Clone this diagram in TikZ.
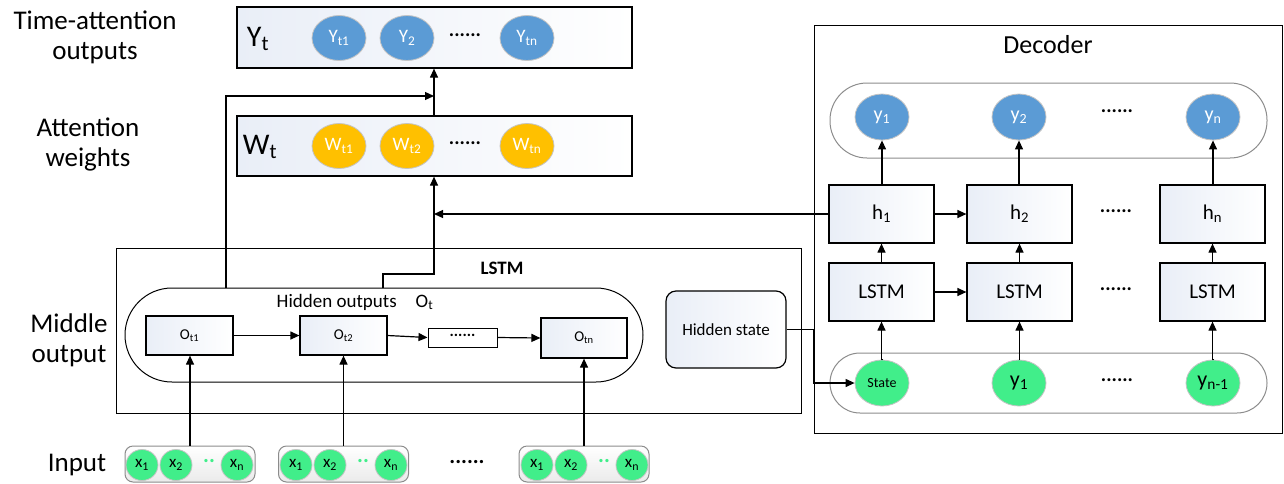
\documentclass[tikz,border=0pt]{standalone}
\usepackage{fontspec}
\setmainfont{Carlito}
\usetikzlibrary{arrows.meta,shapes.geometric}
\definecolor{tint}{HTML}{E9EEF7}
\definecolor{ballblue}{HTML}{5B9BD5}
\definecolor{ballgold}{HTML}{FFC000}
\definecolor{ballgreen}{HTML}{41EE8A}
\definecolor{rim}{HTML}{C4C4C4}
\definecolor{pillgray}{HTML}{8C8C8C}
\newcommand\fz[1]{\fontsize{#1}{#1}\selectfont}

\begin{document}
\begin{tikzpicture}[x=1pt,y=-1pt,line width=1.2pt,
  arr/.style={-{Triangle[length=9pt,width=8pt]}},
  cellbox/.style={draw,left color=tint,middle color=white,right color=white,inner sep=0pt},
  rowbox/.style={cellbox,minimum width=395pt,minimum height=60pt},
  ball/.style={ellipse,draw=rim,line width=0.8pt,inner sep=0pt,minimum width=54pt,minimum height=45pt},
  bluball/.style={ball,fill=ballblue,text=white},
  goldball/.style={ball,fill=ballgold,text=white},
  greenball/.style={ball,fill=ballgreen},
  xball/.style={ball,fill=ballgreen,minimum width=32pt,minimum height=31pt,font=\fz{17}},
  obox/.style={cellbox,minimum width=87pt,minimum height=39pt,font=\fz{15}},
  decbox/.style={cellbox,minimum width=105pt,minimum height=58pt,font=\fz{21}},
  dots/.style={font=\fz{20}\bfseries,inner sep=0pt},
  sidelabel/.style={align=center,font=\fz{27},inner sep=0pt},
  grp/.style={draw=pillgray,line width=1pt,rounded corners=8pt,top color=white,bottom color=black!8,minimum width=130pt,minimum height=36pt,inner sep=0pt},
  pill/.style={draw=pillgray,line width=1pt,fill=white,inner sep=0pt}]

\useasboundingbox (0,0) rectangle (1284,483);

% ---- side labels
\node[sidelabel] (lblA) at (95,37) {Time-attention\\[3pt]outputs};
\node[sidelabel] (lblB) at (88,144) {Attention\\[3pt]weights};
\node[sidelabel] (lblC) at (69,340) {Middle\\[3pt]output};
\node[sidelabel] (lblD) at (77,465) {Input};

% ---- attention rows
\node[rowbox,minimum height=61pt] (Ybox) at (434.5,37.5) {};
\node[inner sep=0pt,font=\fz{30}] (Ylbl) at (258,39) {Y\textsubscript{t}};
\node[bluball,font=\fz{19}] (Y1) at (339,38) {Y\textsubscript{t1}};
\node[bluball,font=\fz{19}] (Y2) at (407,38) {Y\textsubscript{2}};
\node[dots] (Yd) at (465,35) {......};
\node[bluball,font=\fz{19}] (Yn) at (527,38) {Y\textsubscript{tn}};

\node[rowbox] (Wbox) at (434.5,146) {};
\node[inner sep=0pt,font=\fz{30}] (Wlbl) at (260,147) {W\textsubscript{t}};
\node[goldball,font=\fz{19}] (W1) at (339,146) {W\textsubscript{t1}};
\node[goldball,font=\fz{19}] (W2) at (407,146) {W\textsubscript{t2}};
\node[dots] (Wd) at (465,143) {......};
\node[goldball,font=\fz{19}] (Wn) at (527,146) {W\textsubscript{tn}};

% ---- encoder LSTM
\draw[line width=1pt] (116,248) rectangle (801,413);
\node[font=\fz{19}\bfseries,inner sep=0pt] (lstmlbl) at (502,268) {LSTM};
\node[draw,line width=1pt,rounded corners=47pt,minimum width=518pt,minimum height=94pt,inner sep=0pt] (hidpill) at (384,335) {};
\node[font=\fz{19},inner sep=0pt] (hidlbl) at (355,302) {Hidden outputs\quad O\textsubscript{t}};
\node[obox] (o1) at (189.5,335.5) {O\textsubscript{t1}};
\node[obox] (o2) at (343.5,335.5) {O\textsubscript{t2}};
\node[draw,line width=1pt,fill=white,minimum width=69pt,minimum height=19pt,inner sep=0pt] (od) at (462.5,337.5) {};
\node[dots,font=\fz{16}\bfseries] (odt) at (462.5,335) {......};
\node[obox,minimum width=86pt,minimum height=40pt] (on) at (584,338) {O\textsubscript{tn}};
\node[cellbox,rounded corners=10pt,minimum width=120pt,minimum height=77pt,font=\fz{17}] (hstate) at (726,329.5) {Hidden state};

\draw[arr] (o1.east) -- (o2.west);
\draw[arr] (o2.east) -- (od.west);
\draw[arr] (od.east) -- (on.west);

% ---- inputs
\node[grp] (g1) at (190,464) {};
\node[grp] (g2) at (343.5,464) {};
\node[grp] (g3) at (584,464) {};
\foreach \g/\x in {g1/125,g2/279,g3/520}{
  \node[xball] (\g a) at (\x+17,465) {x\textsubscript{1}};
  \node[xball] (\g b) at (\x+51,465) {x\textsubscript{2}};
  \node[dots,text=ballgreen,font=\fz{22}\bfseries] (\g d) at (\x+84,461) {..};
  \node[xball] (\g n) at (\x+112,465) {x\textsubscript{n}};
}
\node[dots,font=\fz{22}\bfseries] (gd) at (467,462) {......};

\draw[arr] (g1.north) -- (g1.north |- o1.south);
\draw[arr] (g2.north) -- (g2.north |- o2.south);
\draw[arr] (g3.north) -- (g3.north |- on.south);

% ---- attention wiring
\coordinate (tapA) at (226,288);
\coordinate (tapB) at (383,288);
\coordinate (jA) at (434,96);
\coordinate (jB) at (434,274);
\draw[arr] (tapA) |- (jA);
\draw[arr] (Wbox.north -| jA) -- (Ybox.south -| jA);
\draw[arr] (tapB) |- (jB) -- (Wbox.south -| jB);

% ---- decoder
\draw[line width=1pt] (814,25) rectangle (1282,433);
\node[font=\fz{26},inner sep=0pt] (declbl) at (1048,45) {Decoder};
\node[pill,rounded corners=37pt,minimum width=437pt,minimum height=75pt] (toppill) at (1048.5,120.5) {};
\node[pill,rounded corners=30pt,minimum width=437pt,minimum height=60pt] (botpill) at (1048.5,383) {};

\node[bluball,minimum height=46pt,font=\fz{20}] (y1) at (882,117) {y\textsubscript{1}};
\node[bluball,minimum height=46pt,font=\fz{20}] (y2) at (1019,117) {y\textsubscript{2}};
\node[dots] (yd) at (1117,111) {......};
\node[bluball,minimum height=46pt,font=\fz{20}] (yn) at (1213,117) {y\textsubscript{n}};

\node[decbox] (h1) at (881.5,214) {h\textsubscript{1}};
\node[decbox] (h2) at (1019.5,214) {h\textsubscript{2}};
\node[dots] (hd) at (1116,211) {......};
\node[decbox] (hn) at (1212.5,214) {h\textsubscript{n}};

\node[decbox] (L1) at (881.5,292) {LSTM};
\node[decbox] (L2) at (1019.5,292) {LSTM};
\node[dots] (Ld) at (1116,289) {......};
\node[decbox] (Ln) at (1212.5,292) {LSTM};

\node[greenball,minimum height=46pt,font=\fz{14}] (s0) at (882,383) {State};
\node[greenball,minimum height=46pt,font=\fz{22}] (s1) at (1019,383) {y\textsubscript{1}};
\node[dots] (sd) at (1117,380) {......};
\node[greenball,minimum height=46pt,font=\fz{22}] (sn) at (1213,383) {y\textsubscript{n-1}};

\foreach \a/\b in {h1/y1,h2/y2,hn/yn,L1/h1,L2/h2,Ln/hn,s0/L1,s1/L2,sn/Ln}
  \draw[arr] (\a.north) -- (\a.north -| \b.south) -- (\b.south);
\draw[arr] (h1.east) -- (h2.west);
\draw[arr] (L1.east) -- (L2.west);

\draw[arr] (h1.west) -- (h1.west -| jB);
\coordinate (jC) at (814,383);
\draw[arr] (hstate.east) -| (jC) -- (s0.west);
\end{tikzpicture}
\end{document}
